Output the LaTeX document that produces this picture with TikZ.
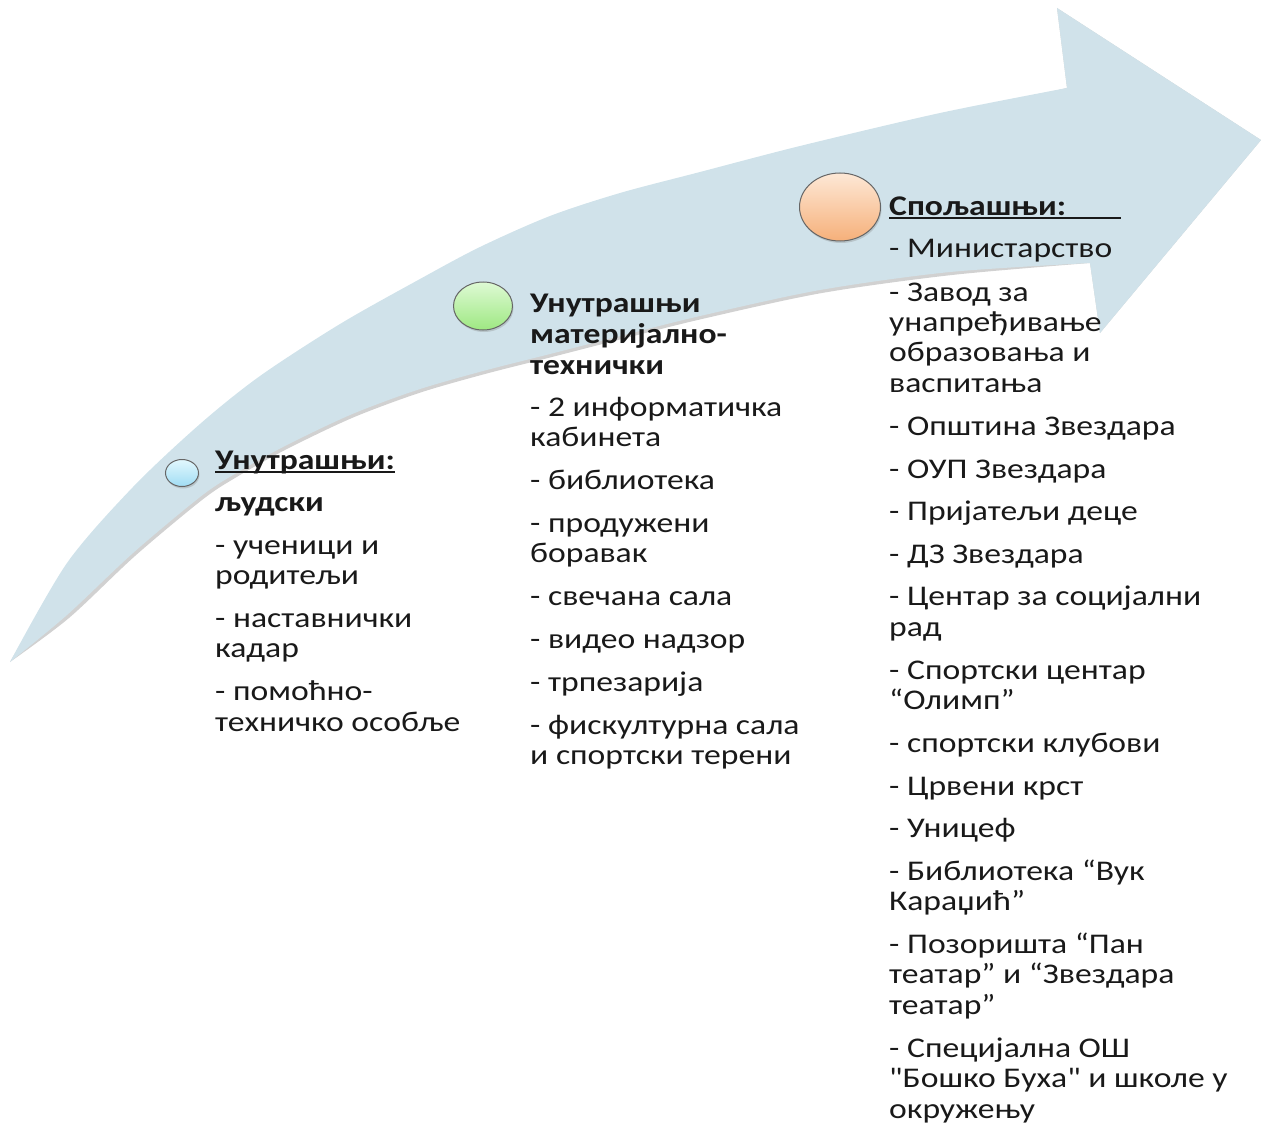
\documentclass[tikz,border=0pt]{standalone}
\usepackage{fontspec}
\setmainfont{Carlito}[FakeStretch=1.18, Ligatures=TeXOff]
\usetikzlibrary{shapes.geometric,shadows}
\definecolor{arrowc}{RGB}{208,226,234}
\definecolor{bluetop}{RGB}{226,247,253}
\definecolor{bluebot}{RGB}{160,221,244}
\definecolor{greentop}{RGB}{222,250,212}
\definecolor{greenbot}{RGB}{158,232,130}
\definecolor{orangetop}{RGB}{253,232,214}
\definecolor{orangebot}{RGB}{246,176,122}
\definecolor{txtc}{RGB}{25,25,25}
\newcommand\txfont{\fontsize{28.5}{30}\selectfont}
\newcommand\ulnat[1]{\setbox0\hbox{#1}\rlap{\rule[-3.5pt]{\wd0}{2pt}}\box0}
\newcommand\ulwid[2]{\rlap{\rule[-3.5pt]{#1}{2pt}}#2}
\begin{document}
\begin{tikzpicture}[x=1pt,y=-1pt,
  txt/.style={anchor=base west, inner sep=0pt, font=\txfont, text=txtc},
  dot/.style={ellipse, draw=black!60, line width=1pt, inner sep=0pt,
    drop shadow={opacity=0.3, shadow xshift=1pt, shadow yshift=-2pt}},
  arrowbody/.style={fill=arrowc},
  arrowshadow/.style={fill=black, opacity=0.18}]
\useasboundingbox (0,0) rectangle (1261,1126);
% arrow geometry
\coordinate (T) at (10,662);
\coordinate (HU) at (1067,88);
\coordinate (HT) at (1057,8);
\coordinate (TIP) at (1261,140);
\coordinate (HB) at (1100,333);
\coordinate (HL) at (1090,263);
\def\arrowpath{plot[smooth, tension=0.5] coordinates {(T) (67,563) (133,487) (200,424) (260,376) (340,324) (420,279) (480,247) (550,216) (620,193) (700,172) (800,146) (940,113) (HU)}
  -- (HT) -- (TIP) -- (HB) -- (HL)
  -- plot[smooth, tension=0.5] coordinates {(HL) (950,272) (820,290) (700,316) (620,336) (550,354) (483,371) (417,390) (350,415) (283,447) (233,475) (200,497) (133,553) (67,615) (T)} -- cycle}
\begin{scope}[shift={(2,3)}]
\fill[arrowshadow] \arrowpath;
\end{scope}
\fill[arrowbody] \arrowpath;
% circles
\node[dot, minimum width=33pt, minimum height=27pt, top color=bluetop, bottom color=bluebot] (c1) at (182,473) {};
\node[dot, minimum width=59pt, minimum height=48pt, top color=greentop, bottom color=greenbot] (c2) at (483,306) {};
\node[dot, minimum width=81pt, minimum height=68pt, top color=orangetop, bottom color=orangebot] (c3) at (840,207) {};
% column 1
\foreach \y/\t [count=\i] in {
  469/{\ulnat{\textbf{Унутрашњи:}}},
  511/{\textbf{људски}},
  554/{- ученици и},
  584/{родитељи},
  627/{- наставнички},
  657/{кадар},
  700/{- помоћно-},
  731/{техничко особље}}
  \node[txt] (a\i) at (215,\y) {\t};
% column 2
\foreach \y/\t [count=\i] in {
  312/{\textbf{Унутрашњи}},
  343/{\textbf{материјално-}},
  374/{\textbf{технички}},
  416/{- 2 информатичка},
  446/{кабинета},
  489/{- библиотека},
  532/{- продужени},
  562/{боравак},
  605/{- свечана сала},
  648/{- видео надзор},
  691/{- трпезарија},
  734/{- фискултурна сала},
  764/{и спортски терени}}
  \node[txt] (b\i) at (530,\y) {\t};
% column 3
\foreach \y/\t [count=\i] in {
  215/{\ulwid{232pt}{\textbf{Спољашњи:}}},
  258/{- Министарство},
  301/{- Завод за},
  331/{унапређивање},
  361/{образовања и},
  392/{васпитања},
  435/{- Општина Звездара},
  478/{- ОУП Звездара},
  520/{- Пријатељи деце},
  563/{- ДЗ Звездара},
  605/{- Центар за социјални},
  636/{рад},
  679/{- Спортски центар},
  709/{“Олимп”},
  752/{- спортски клубови},
  795/{- Црвени крст},
  837/{- Уницеф},
  880/{- Библиотека “Вук},
  910/{Караџић”},
  953/{- Позоришта “Пан},
  983/{театар” и “Звездара},
  1014/{театар”},
  1057/{- Специјална ОШ},
  1087/{"Бошко Буха" и школе у},
  1118/{окружењу}}
  \node[txt] (s\i) at (889,\y) {\t};
\end{tikzpicture}
\end{document}
